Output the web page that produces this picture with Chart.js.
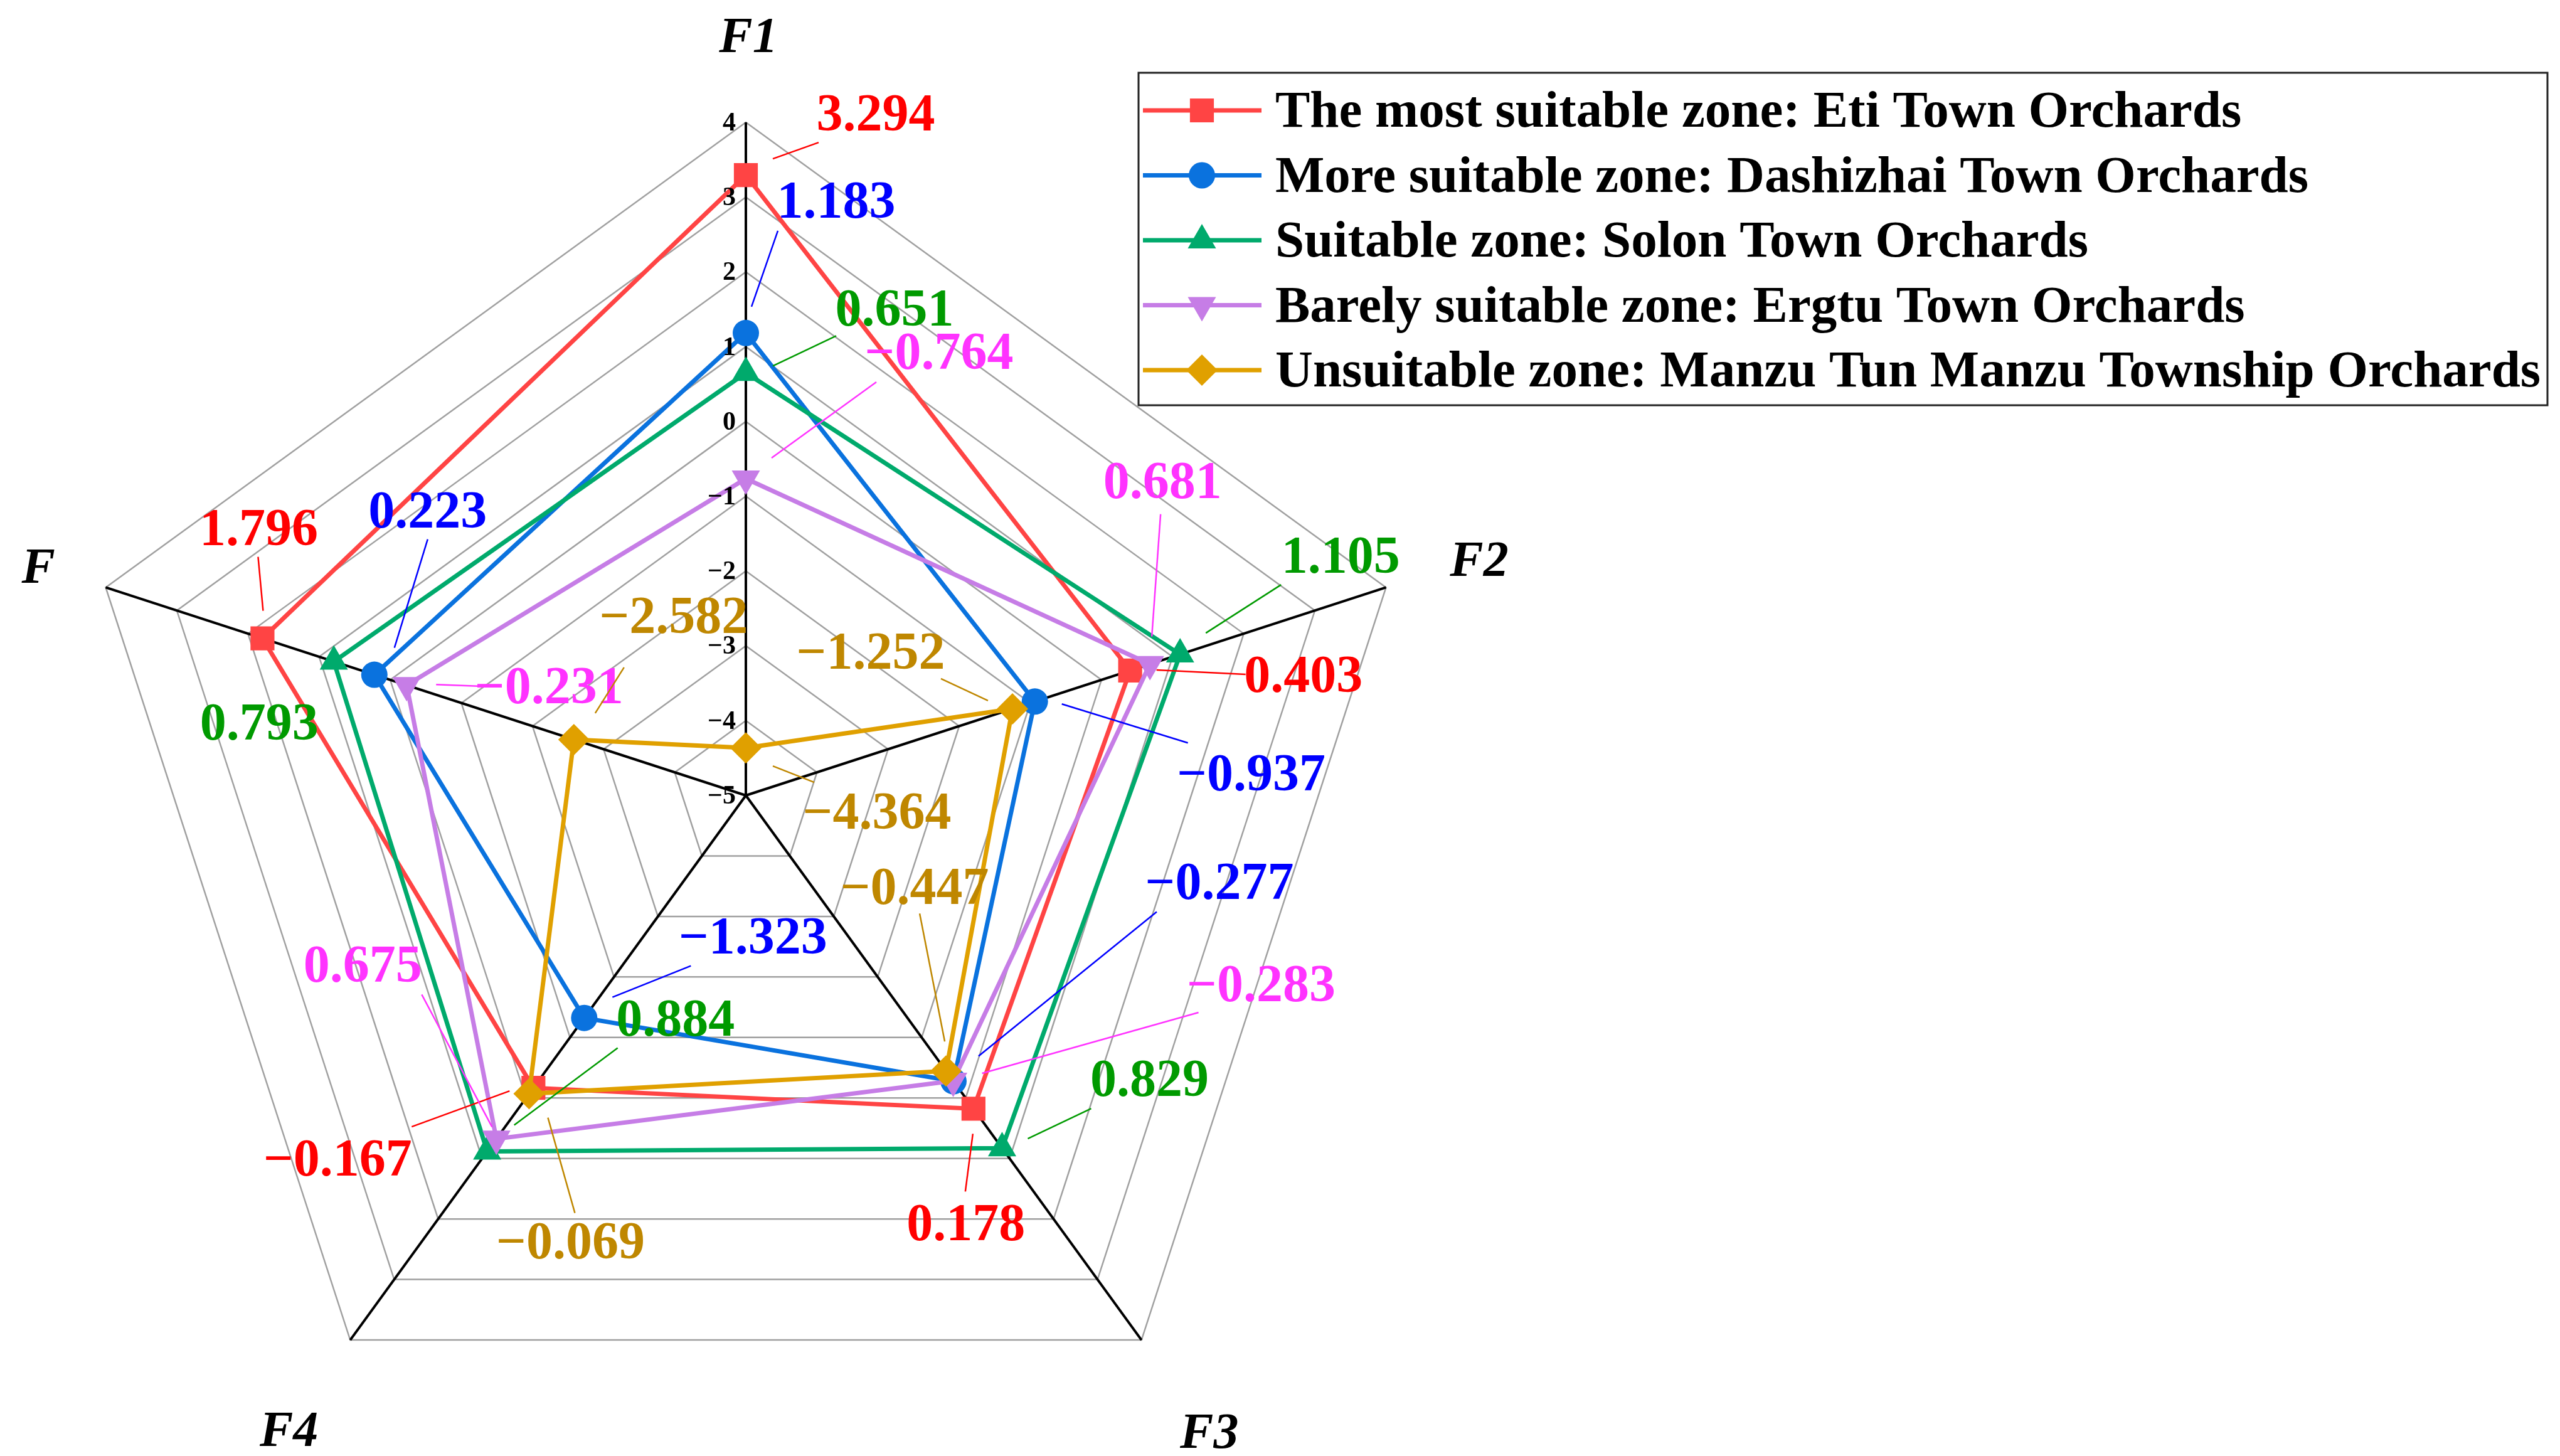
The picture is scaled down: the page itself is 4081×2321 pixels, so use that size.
<!DOCTYPE html>
<html>
<head>
<meta charset="utf-8">
<title>Suitability zones radar</title>
<script src="https://cdn.jsdelivr.net/npm/chart.js@4.4.1/dist/chart.umd.min.js"></script>
<style>
  html, body { margin: 0; padding: 0; background: #fff; overflow: hidden; }
  #wrap { width: 4081px; height: 2321px; overflow: hidden; }
  canvas { display: block; }
</style>
</head>
<body>
<div id="wrap"><canvas id="radarChart" width="4081" height="2400"></canvas></div>
<script>
// Axes of the radar (clockwise from the top)
const axisLabels = ['F1', 'F2', 'F3', 'F4', 'F'];

// Scores per zone, in the order of axisLabels
const etiValues = [3.294, 0.403, 0.178, -0.167, 1.796];
const dashizhaiValues = [1.183, -0.937, -0.277, -1.323, 0.223];
const solonValues = [0.651, 1.105, 0.829, 0.884, 0.793];
const ergtuValues = [-0.764, 0.681, -0.283, 0.675, -0.231];
const manzuValues = [-4.364, -1.252, -0.447, -0.069, -2.582];

const seriesNames = [
    'The most suitable zone: Eti Town Orchards',
    'More suitable zone: Dashizhai Town Orchards',
    'Suitable zone: Solon Town Orchards',
    'Barely suitable zone: Ergtu Town Orchards',
    'Unsuitable zone: Manzu Tun Manzu Township Orchards'
];

// scale range
const scaleMin = -5;
const scaleMax = 4;

const serif = "'Liberation Serif', 'Times New Roman', serif";

// look of each series
const lineColors = ['#FF4444', '#0A72DE', '#00AA6C', '#C67DE6', '#E0A000'];
const textColors = ['#FF0000', '#0000FF', '#009A00', '#FF33FF', '#BF8700'];
const markerStyles = ['rect', 'circle', 'triangle', 'triangle', 'rectRot'];
const markerRotations = [0, 0, 0, 180, 0];
const markerSizes = [27, 21, 26, 26, 25];

// value label placement, relative to each point: [labelX, labelY, lineFromX, lineFromY, lineToX, lineToY]
const labelOffsets = [
    [[207, -96, 43, -26, 116, -52], [276, 9, 42, -1, 184, 6], [-12, 185, -1, 40, -13, 132], [-312, 115, -38, 5, -194, 62], [-6, -173, -7, -130, 1, -44]],
    [[144, -209, 9, -42, 51, -163], [345, 117, 43, 4, 244, 66], [424, -315, 40, -40, 324, -270], [269, -127, 45, -33, 170, -83], [85, -259, 32, -43, 85, -216]],
    [[237, -100, 43, -11, 144, -59], [256, -155, 41, -34, 161, -111], [235, -108, 41, -15, 142, -63], [300, -209, 43, -42, 208, -165], [-119, 100, null]],
    [[308, -200, 41, -33, 208, -154], [20, -289, 3, -44, 17, -239], [491, -152, 46, -12, 391, -109], [-213, -275, -119, -230, -7, -19], [227, 4, 47, -1, 127, 2]],
    [[209, 104, 43, 29, 109, 55], [-226, -89, -114, -48, -39, -13], [-50, -291, -42, -251, -2, -47], [66, 238, 30, 38, 73, 190], [159, -195, 80, -115, 34, -42]]
];

// distance of the axis titles from the centre
const titleDistances = [1214, 1225, 1250, 1246, 1190];

function fmt(v) {
    const s = Math.abs(v).toFixed(3);
    return v < 0 ? '\u2212' + s : s;
}

function fmtTick(v) {
    return v < 0 ? '\u2212' + Math.abs(v) : String(v);
}

function drawMarker(ctx, i, x, y) {
    ctx.save();
    ctx.fillStyle = lineColors[i];
    ctx.strokeStyle = lineColors[i];
    if (Chart.helpers && Chart.helpers.drawPoint) {
        Chart.helpers.drawPoint(ctx, {
            pointStyle: markerStyles[i],
            rotation: markerRotations[i],
            radius: markerSizes[i],
            borderWidth: 0
        }, x, y);
    } else {
        ctx.beginPath();
        ctx.arc(x, y, markerSizes[i] * 0.8, 0, Math.PI * 2);
        ctx.fill();
    }
    ctx.restore();
}

const allValues = [etiValues, dashizhaiValues, solonValues, ergtuValues, manzuValues];

// custom drawing: tick numbers, axis titles, value labels and the legend box
const decorations = {
    id: 'decorations',
    afterDraw(chart) {
        const ctx = chart.ctx;
        const scale = chart.scales.r;

        // tick numbers along F1
        ctx.save();
        ctx.fillStyle = '#000';
        ctx.font = 'bold 42px ' + serif;
        ctx.textAlign = 'right';
        ctx.textBaseline = 'middle';
        scale.ticks.forEach(t => {
            const d = scale.getDistanceFromCenterForValue(t.value);
            ctx.fillText(fmtTick(t.value), scale.xCenter - 16, scale.yCenter - d + 2);
        });
        ctx.restore();

        // axis titles
        ctx.save();
        ctx.fillStyle = '#000';
        ctx.font = 'italic bold 80px ' + serif;
        ctx.textAlign = 'center';
        ctx.textBaseline = 'middle';
        axisLabels.forEach((lab, i) => {
            const p = scale.getPointPosition(i, titleDistances[i]);
            ctx.fillText(lab, p.x + 4, p.y + 8);
        });
        ctx.restore();

        // value labels with leader lines
        ctx.save();
        ctx.font = 'bold 84px ' + serif;
        ctx.textAlign = 'center';
        ctx.textBaseline = 'middle';
        allValues.forEach((vals, i) => {
            const meta = chart.getDatasetMeta(i);
            vals.forEach((v, j) => {
                const pt = meta.data[j];
                const o = labelOffsets[i][j];
                ctx.strokeStyle = textColors[i];
                ctx.fillStyle = textColors[i];
                if (o[2] !== null) {
                    ctx.lineWidth = 2.5;
                    ctx.beginPath();
                    ctx.moveTo(pt.x + o[2], pt.y + o[3]);
                    ctx.lineTo(pt.x + o[4], pt.y + o[5]);
                    ctx.stroke();
                }
                ctx.fillText(fmt(v), pt.x + o[0], pt.y + o[1] + 3);
            });
        });
        ctx.restore();

        // legend
        const box = { x: 1815, y: 116, w: 2246, h: 530 };
        ctx.save();
        ctx.fillStyle = '#fff';
        ctx.fillRect(box.x, box.y, box.w, box.h);
        ctx.strokeStyle = '#222';
        ctx.lineWidth = 3;
        ctx.strokeRect(box.x, box.y, box.w, box.h);
        ctx.font = 'bold 83px ' + serif;
        ctx.textAlign = 'left';
        ctx.textBaseline = 'middle';
        seriesNames.forEach((name, i) => {
            const y = box.y + 60 + i * 103.5;
            ctx.strokeStyle = lineColors[i];
            ctx.lineWidth = 7;
            ctx.beginPath();
            ctx.moveTo(1822, y);
            ctx.lineTo(2011, y);
            ctx.stroke();
            drawMarker(ctx, i, 1916, y);
            ctx.fillStyle = '#000';
            ctx.fillText(name, 2033, y + 5);
        });
        ctx.restore();
    }
};

const ctx = document.getElementById('radarChart').getContext('2d');

const datasets = allValues.map((vals, i) => ({
    label: seriesNames[i],
    data: vals,
    borderColor: lineColors[i],
    backgroundColor: lineColors[i],
    pointBackgroundColor: lineColors[i],
    pointBorderColor: lineColors[i],
    pointBorderWidth: 0,
    pointStyle: markerStyles[i],
    pointRotation: markerRotations[i],
    pointRadius: markerSizes[i],
    pointHoverRadius: markerSizes[i],
    borderWidth: 7,
    fill: false,
    tension: 0,
    order: 5 - i
}));

const radarChart = new Chart(ctx, {
    type: 'radar',
    data: { labels: axisLabels, datasets: datasets },
    options: {
        responsive: false,
        animation: false,
        events: [],
        layout: { padding: { left: 116, right: 1819, top: 195, bottom: 59 } },
        plugins: {
            legend: { display: false },
            tooltip: { enabled: false }
        },
        scales: {
            r: {
                min: scaleMin,
                max: scaleMax,
                ticks: { stepSize: 1, display: false },
                grid: { color: '#A0A0A0', lineWidth: 2.5 },
                angleLines: { color: '#000', lineWidth: 4 },
                pointLabels: { display: false }
            }
        }
    },
    plugins: [decorations]
});
</script>
</body>
</html>
